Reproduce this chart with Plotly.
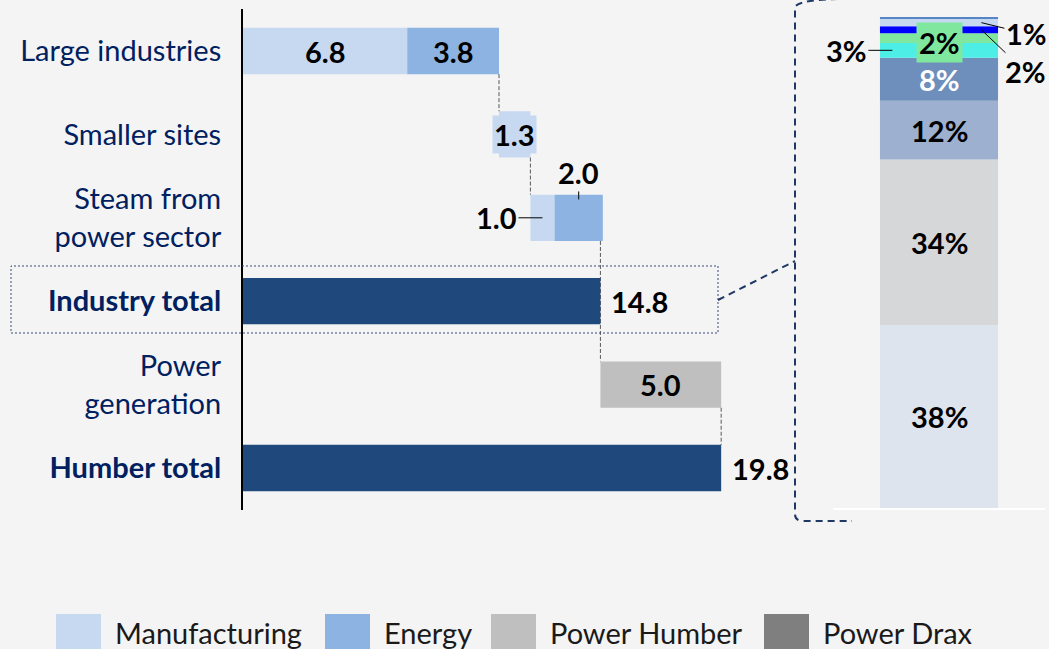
import plotly.graph_objects as go

# ---------------- data ----------------
categories = ["Large industries", "Smaller sites", "Steam from<br>power sector",
              "<b>Industry total</b>", "Power<br>generation", "<b>Humber total</b>"]
manuf_idx = [0, 1, 2]
manuf_vals = [6.8, 1.3, 1.0]
energy_idx = [0, 2]
energy_vals = [3.8, 2.0]
total_idx = [3, 5]
total_vals = [14.8, 19.8]
power_idx = [4]
power_vals = [5.0]

share_vals = [37.3, 33.8, 12.0, 8.8, 3.0, 2.0, 1.4, 1.5, 0.4]
share_labels = ["38%", "34%", "12%", "8%", "3%", "2%", "2%", "1%", ""]
share_colors = ["#dde4ee", "#d6d7d9", "#9db0cf", "#6e8fbc", "#4deee6",
                "#80e89e", "#0000ff", "#c5d8f0", "#5585c5"]

legend_names = ["Manufacturing", "Energy", "Power Humber", "Power Drax"]
legend_colors = ["#c6d9f1", "#8db3e2", "#bfbfbf", "#7f7f7f"]

# ---------------- bases ----------------
manuf_base = [0, 10.6, 11.9]
energy_base = [m_b + m_v for m_b, m_v in zip([manuf_base[0], manuf_base[2]], [manuf_vals[0], manuf_vals[2]])]
power_base = [total_vals[0]]
share_base = []
acc = 0
for v in share_vals:
    share_base.append(acc)
    acc += v
share_total = acc

W, H = 1049, 649
def px(x):
    return x / W
def py(y):
    return 1 - y / H

BW = 0.555
NAVY = "#1f3864"
LBL = "#002060"
FONT = "Lato"
FS = 29

fig = go.Figure()
fig.add_trace(go.Bar(y=manuf_idx, x=manuf_vals, base=manuf_base, orientation="h",
                     marker_color=legend_colors[0], marker_line_width=0, width=BW,
                     showlegend=False, hoverinfo="skip"))
fig.add_trace(go.Bar(y=energy_idx, x=energy_vals, base=energy_base, orientation="h",
                     marker_color=legend_colors[1], marker_line_width=0, width=BW,
                     showlegend=False, hoverinfo="skip"))
fig.add_trace(go.Bar(y=total_idx, x=total_vals, base=[0, 0], orientation="h",
                     marker_color="#1f497d", marker_line_width=0, width=BW,
                     showlegend=False, hoverinfo="skip"))
fig.add_trace(go.Bar(y=power_idx, x=power_vals, base=power_base, orientation="h",
                     marker_color=legend_colors[2], marker_line_width=0, width=BW,
                     showlegend=False, hoverinfo="skip"))

for v, b, c in zip(share_vals, share_base, share_colors):
    fig.add_trace(go.Bar(x=[0], y=[v], base=[b], marker_color=c, marker_line_width=0,
                         width=0.557, xaxis="x2", yaxis="y2", showlegend=False,
                         hoverinfo="skip"))

ann = []
numfont = dict(family=FONT, size=FS, color="black")
# inside labels
ann.append(dict(x=manuf_base[0] + manuf_vals[0] / 2, y=0, text="<b>%.1f</b>" % manuf_vals[0],
                showarrow=False, font=numfont, xref="x", yref="y"))
ann.append(dict(x=energy_base[0] + energy_vals[0] / 2, y=0, text="<b>%.1f</b>" % energy_vals[0],
                showarrow=False, font=numfont, xref="x", yref="y"))
ann.append(dict(x=manuf_base[1] + manuf_vals[1] / 2, y=1, text="<b>%.1f</b>" % manuf_vals[1],
                showarrow=False, font=numfont, xref="x", yref="y", bgcolor=legend_colors[0],
                borderpad=1))
ann.append(dict(x=manuf_base[2] + manuf_vals[2] / 2, y=2, text="<b>%.1f</b>" % manuf_vals[2],
                showarrow=True, arrowhead=0, arrowwidth=1, arrowcolor="black", ax=-46, ay=0,
                standoff=0, font=numfont, xref="x", yref="y"))
ann.append(dict(x=energy_base[1] + energy_vals[1] / 2, y=2 - 0.22, text="<b>%.1f</b>" % energy_vals[1],
                showarrow=True, arrowhead=0, arrowwidth=1, arrowcolor="black", ax=0, ay=-27,
                standoff=0, font=numfont, xref="x", yref="y"))
for i, v in zip(total_idx, total_vals):
    ann.append(dict(x=v, y=i, text="<b>%.1f</b>" % v, showarrow=False, xanchor="left",
                    xshift=9, font=numfont, xref="x", yref="y"))
ann.append(dict(x=power_base[0] + power_vals[0] / 2, y=4, text="<b>%.1f</b>" % power_vals[0],
                showarrow=False, font=numfont, xref="x", yref="y"))

# stacked share labels
for k in range(4):
    ann.append(dict(x=0, y=share_base[k] + share_vals[k] / 2, text="<b>%s</b>" % share_labels[k],
                    showarrow=False, xref="x2", yref="y2",
                    font=dict(family=FONT, size=FS, color="white" if k == 3 else "black")))
ann.append(dict(x=-0.22, y=share_base[4] + share_vals[4] / 2, text="<b>%s</b>" % share_labels[4],
                showarrow=True, arrowhead=0, arrowwidth=1, arrowcolor="black", ax=-46, ay=0,
                standoff=0, xref="x2", yref="y2", font=numfont))
ann.append(dict(x=0, y=share_base[5] + share_vals[5] / 2 - 0.9, text="<b>%s</b>" % share_labels[5],
                showarrow=False, xref="x2", yref="y2", font=numfont, bgcolor=share_colors[5],
                borderpad=2))
ann.append(dict(x=0.2, y=share_base[6] + share_vals[6] / 2, text="<b>%s</b>" % share_labels[6],
                showarrow=True, arrowhead=0, arrowwidth=1, arrowcolor="black", ax=44, ay=42,
                standoff=0, xref="x2", yref="y2", font=numfont))
ann.append(dict(x=0.2, y=share_base[7] + share_vals[7] / 2, text="<b>%s</b>" % share_labels[7],
                showarrow=True, arrowhead=0, arrowwidth=1, arrowcolor="black", ax=45, ay=11,
                standoff=0, xref="x2", yref="y2", font=numfont))

# legend (manual)
leg_sq_x = [56, 325, 491, 764]
for name, col, lx in zip(legend_names, legend_colors, leg_sq_x):
    ann.append(dict(x=px(lx + 57), y=py(632), xref="paper", yref="paper", text=name,
                    showarrow=False, xanchor="left", yanchor="middle",
                    font=dict(family=FONT, size=FS, color="#1a1a1a")))

shapes = []
for col, lx in zip(legend_colors, leg_sq_x):
    shapes.append(dict(type="rect", xref="paper", yref="paper", x0=px(lx), x1=px(lx + 45),
                       y0=py(614), y1=py(660), fillcolor=col, line_width=0))

# connectors
conn = dict(color="#595959", width=1, dash="4px,2px")
h = BW / 2
shapes.append(dict(type="line", xref="x", yref="y", x0=manuf_base[1], x1=manuf_base[1],
                   y0=0 + h, y1=1 - h, line=conn))
shapes.append(dict(type="line", xref="x", yref="y", x0=manuf_base[2], x1=manuf_base[2],
                   y0=1 + h, y1=2 - h, line=conn))
shapes.append(dict(type="line", xref="x", yref="y", x0=total_vals[0], x1=total_vals[0],
                   y0=2 + h, y1=4 - h, line=conn, layer="below"))
shapes.append(dict(type="line", xref="x", yref="y", x0=total_vals[1], x1=total_vals[1],
                   y0=4 + h, y1=5 - h, line=conn))

# dotted box around industry total
shapes.append(dict(type="rect", xref="paper", yref="paper", x0=px(11), x1=px(718),
                   y0=py(333), y1=py(266), line=dict(color="#3a4a78", width=1, dash="2px,2px")))
# zoom bracket
shapes.append(dict(type="line", xref="paper", yref="paper", x0=px(718), y0=py(300),
                   x1=px(795), y1=py(261), line=dict(color=NAVY, width=2, dash="7px,5px")))
shapes.append(dict(type="path", xref="paper", yref="paper",
                   path="M %f %f Q %f %f %f %f L %f %f Q %f %f %f %f L %f %f" % (
                       px(850), py(-1), px(795), py(-1), px(795), py(8),
                       px(795), py(514), px(795), py(521), px(803), py(521),
                       px(852), py(521)),
                   line=dict(color=NAVY, width=2, dash="7px,5px")))
# white baseline under stacked bar
shapes.append(dict(type="line", xref="paper", yref="paper", x0=px(833), x1=px(1045),
                   y0=py(509), y1=py(509), line=dict(color="white", width=2)))

fig.update_layout(
    width=W, height=H,
    margin=dict(l=0, r=0, t=0, b=0),
    paper_bgcolor="#f4f4f4", plot_bgcolor="#f4f4f4",
    barmode="overlay",
    showlegend=False,
    xaxis=dict(domain=[px(243), px(243 + 22 * 24.15)], range=[0, 22], visible=False, fixedrange=True),
    yaxis=dict(domain=[py(509.7), py(9.3)], range=[5.5, -0.5], tickvals=list(range(len(categories))),
               ticktext=categories, showline=True, linecolor="black", linewidth=2,
               showgrid=False, zeroline=False, ticks="", ticklabelstandoff=14,
               tickfont=dict(family=FONT, size=FS, color=LBL)),
    xaxis2=dict(domain=[px(833), px(1045)], range=[-0.5, 0.5], visible=False, anchor="y2"),
    yaxis2=dict(domain=[py(508), py(17)], range=[0, share_total], visible=False, anchor="x2"),
    annotations=ann,
    shapes=shapes,
)

fig.write_html("out.html", config={"displayModeBar": False},
               post_script="document.body.style.margin='0';")
